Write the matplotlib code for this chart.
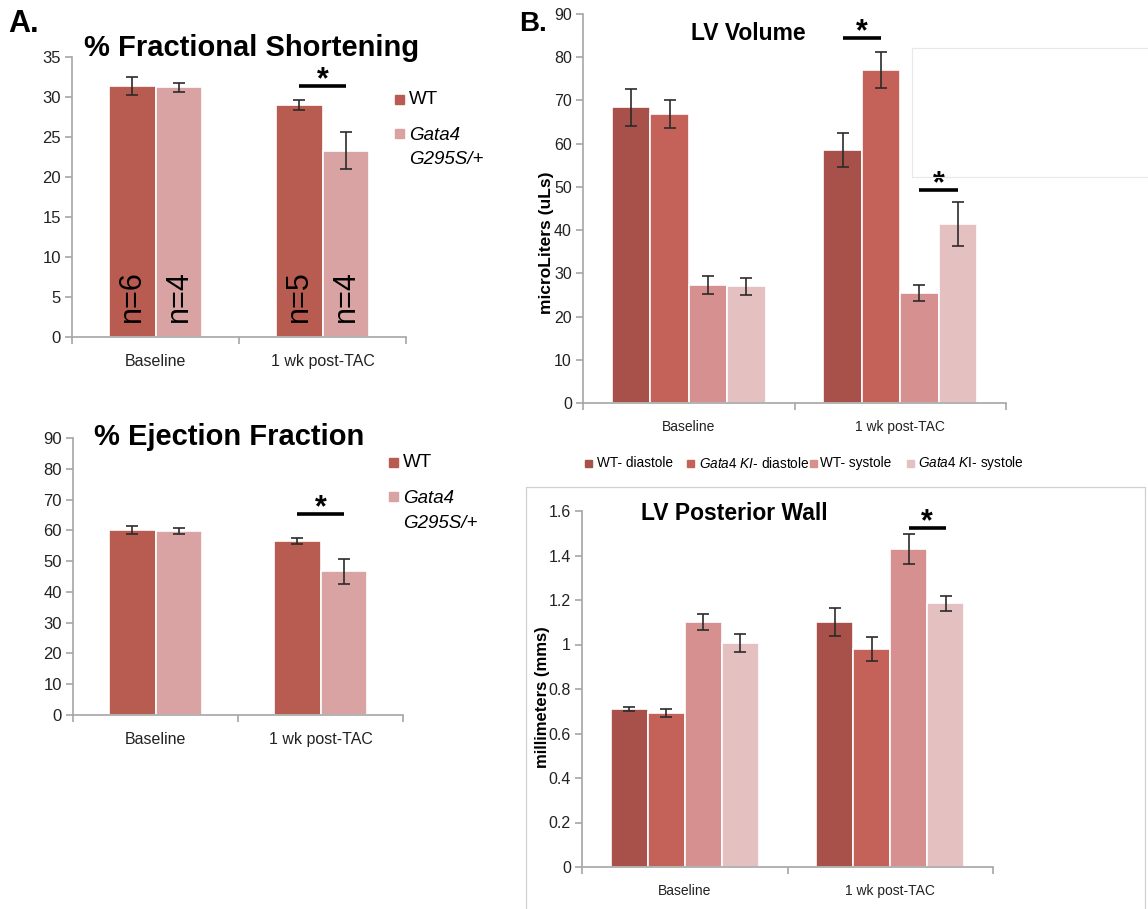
import matplotlib
matplotlib.use("Agg")
import matplotlib.pyplot as plt
from matplotlib.patches import Rectangle
import numpy as np

SANS = 'Liberation Sans'
plt.rcParams['font.family'] = [SANS, 'DejaVu Sans']
plt.rcParams['mathtext.fontset'] = 'custom'
plt.rcParams['mathtext.rm'] = SANS
plt.rcParams['mathtext.it'] = SANS + ':italic'

# Data
groups = ['Baseline', '1 wk post-TAC']

fs_wt = [31.4, 29.0]
fs_wt_err = [1.1, 0.6]
fs_gata = [31.2, 23.3]
fs_gata_err = [0.6, 2.3]
fs_n_wt = ['n=6', 'n=5']
fs_n_gata = ['n=4', 'n=4']

ef_wt = [60.2, 56.4]
ef_wt_err = [1.3, 1.0]
ef_gata = [59.7, 46.7]
ef_gata_err = [0.9, 4.0]

vol_wt_d = [68.4, 58.5]
vol_ki_d = [66.9, 77.0]
vol_wt_s = [27.3, 25.4]
vol_ki_s = [27.0, 41.4]
vol_wt_d_err = [4.2, 4.0]
vol_ki_d_err = [3.3, 4.2]
vol_wt_s_err = [2.0, 1.9]
vol_ki_s_err = [1.9, 5.0]

pw_wt_d = [0.71, 1.10]
pw_ki_d = [0.69, 0.98]
pw_wt_s = [1.10, 1.43]
pw_ki_s = [1.005, 1.185]
pw_wt_d_err = [0.011, 0.063]
pw_ki_d_err = [0.018, 0.052]
pw_wt_s_err = [0.035, 0.066]
pw_ki_s_err = [0.04, 0.034]

b_labels = ['WT- diastole', r'$\mathit{Gata4\ KI}$- diastole', 'WT- systole', r'$\mathit{Gata4\ K}$I- systole']

# colours
c_wt_a = '#b85c51'
c_gata_a = '#d8a3a2'
c_b = ['#a8504a', '#c4625a', '#d69090', '#e4c1c0']
axis_grey = '#a6a6a6'
err_col = '#2b2b2b'

W, H = 1148, 909
fig = plt.figure(figsize=(W / 100, H / 100), dpi=100)
fig.patch.set_facecolor('white')


def px_axes(l, t, r, b):
    return fig.add_axes([l / W, 1 - b / H, (r - l) / W, (b - t) / H])


def fx(x):
    return x / W


def fy(y):
    return 1 - y / H


def style(ax, ymax, ticks, labels, fsize, xfsize):
    ax.set_xlim(-0.5, 1.5)
    ax.set_ylim(0, ymax)
    for s in ['top', 'right']:
        ax.spines[s].set_visible(False)
    for s in ['left', 'bottom']:
        ax.spines[s].set_color(axis_grey)
        ax.spines[s].set_linewidth(1.2)
    ax.set_yticks(ticks)
    ax.set_yticklabels(labels, fontsize=fsize, color='#222222')
    ax.tick_params(axis='y', direction='out', length=5, color=axis_grey, width=1.2, pad=3)
    ax.set_xticks([0, 1])
    ax.set_xticklabels(groups, fontsize=xfsize, color='#222222')
    ax.set_xticks([-0.5, 0.5, 1.5], minor=True)
    ax.tick_params(axis='x', which='major', length=0, pad=12)
    ax.tick_params(axis='x', which='minor', length=5, color=axis_grey, width=1.2)


def sig(ax, x0, x1, y, size=22):
    ax.plot([x0, x1], [y, y], color='black', lw=2.6, solid_capstyle='butt', clip_on=False)
    ax.annotate('*', xy=((x0 + x1) / 2, y), xytext=(0, 4), textcoords='offset points',
                ha='center', va='center', fontsize=size, fontweight='bold', annotation_clip=False)


def bars(ax, xs, vals, errs, w, color):
    ax.bar(xs, vals, w, color=color, edgecolor='white', linewidth=1.2)
    ax.errorbar(xs, vals, yerr=errs, fmt='none', ecolor=err_col, elinewidth=1.2, capsize=4, capthick=1.2)


x = np.arange(len(groups))

# ---------- A: fractional shortening ----------
ax1 = px_axes(72, 57, 406, 337)
wa = 0.281
bars(ax1, x - wa / 2, fs_wt, fs_wt_err, wa, c_wt_a)
bars(ax1, x + wa / 2, fs_gata, fs_gata_err, wa, c_gata_a)
for i in range(len(groups)):
    ax1.text(x[i] - wa / 2, 1.9, fs_n_wt[i], rotation=90, ha='center', va='bottom', fontsize=22)
    ax1.text(x[i] + wa / 2, 1.9, fs_n_gata[i], rotation=90, ha='center', va='bottom', fontsize=22)
style(ax1, 35, range(0, 36, 5), [str(v) for v in range(0, 36, 5)], 12, 11.5)
sig(ax1, 1 - wa / 2, 1 + wa / 2, 31.4)
fig.text(fx(252), fy(48), '% Fractional Shortening', ha='center', va='center', fontsize=21, fontweight='bold')

# ---------- A: ejection fraction ----------
ax2 = px_axes(73, 438, 403, 715)
bars(ax2, x - wa / 2, ef_wt, ef_wt_err, wa, c_wt_a)
bars(ax2, x + wa / 2, ef_gata, ef_gata_err, wa, c_gata_a)
style(ax2, 90, range(0, 91, 10), [str(v) for v in range(0, 91, 10)], 12, 11.5)
sig(ax2, 1 - wa / 2, 1 + wa / 2, 65.3)
fig.text(fx(229), fy(437), '% Ejection Fraction', ha='center', va='center', fontsize=21, fontweight='bold')

# panel A legends
for sx, tx, wy, g1, g2 in [(399, 409, 99, 136, 159), (393, 403, 462, 499, 523)]:
    s = 9
    fig.add_artist(Rectangle((fx(sx - s / 2), fy(wy + s / 2)), s / W, s / H,
                             transform=fig.transFigure, color=c_wt_a))
    fig.add_artist(Rectangle((fx(sx - s / 2), fy(g1 - 3 + s / 2)), s / W, s / H,
                             transform=fig.transFigure, color=c_gata_a))
    fig.text(fx(tx), fy(wy), 'WT', ha='left', va='center', fontsize=13.5)
    fig.text(fx(tx), fy(g1), 'Gata4', ha='left', va='center', fontsize=13.5, style='italic')
    fig.text(fx(tx), fy(g2), 'G295S/+', ha='left', va='center', fontsize=13.5, style='italic')

# ---------- B: LV volume ----------
wb = 0.182
offs = np.array([-1.5, -0.5, 0.5, 1.5]) * wb
ax3 = px_axes(583, 14, 1006, 403)
vol_vals = [vol_wt_d, vol_ki_d, vol_wt_s, vol_ki_s]
vol_errs = [vol_wt_d_err, vol_ki_d_err, vol_wt_s_err, vol_ki_s_err]
for k in range(4):
    bars(ax3, x + offs[k], vol_vals[k], vol_errs[k], wb, c_b[k])
style(ax3, 90, range(0, 91, 10), [str(v) for v in range(0, 91, 10)], 11.5, 10)
sig(ax3, 1 + offs[0], 1 + offs[1], 84.4)
sig(ax3, 1 + offs[2], 1 + offs[3], 49.3)
fig.text(fx(547), fy(243), 'microLiters (uLs)', rotation=90, ha='center', va='center',
         fontsize=12.5, fontweight='bold')
fig.text(fx(748), fy(33), 'LV Volume', ha='center', va='center', fontsize=16.5, fontweight='bold')

# faint box left behind in the source figure
for xs_, ys_ in [([912, 1148], [48, 48]), ([912, 912], [48, 177]), ([912, 1148], [177, 177])]:
    fig.add_artist(plt.Line2D([fx(v) for v in xs_], [fy(v) for v in ys_], color='#e8e8e8', lw=0.8, zorder=3))

# B legend
leg_x = [589, 690, 813, 910]
leg_t = [597, 699, 820, 918]
for k in range(4):
    s = 7
    fig.add_artist(Rectangle((fx(leg_x[k] - s / 2), fy(463 + s / 2)), s / W, s / H,
                             transform=fig.transFigure, color=c_b[k]))
    fig.text(fx(leg_t[k]), fy(463), b_labels[k], ha='left', va='center', fontsize=9.8)

# ---------- B: LV posterior wall ----------
ax4 = px_axes(582, 511, 993, 867)
pw_vals = [pw_wt_d, pw_ki_d, pw_wt_s, pw_ki_s]
pw_errs = [pw_wt_d_err, pw_ki_d_err, pw_wt_s_err, pw_ki_s_err]
wb2 = 0.18
offs2 = np.array([-1.5, -0.5, 0.5, 1.5]) * wb2
for k in range(4):
    bars(ax4, x + offs2[k], pw_vals[k], pw_errs[k], wb2, c_b[k])
pw_ticks = [0, 0.2, 0.4, 0.6, 0.8, 1.0, 1.2, 1.4, 1.6]
pw_labels = ['0', '0.2', '0.4', '0.6', '0.8', '1', '1.2', '1.4', '1.6']
style(ax4, 1.6, pw_ticks, pw_labels, 11.5, 10)
sig(ax4, 1 + offs2[2], 1 + offs2[3], 1.525)
fig.text(fx(543), fy(697), 'millimeters (mms)', rotation=90, ha='center', va='center',
         fontsize=12, fontweight='bold')
fig.text(fx(734), fy(513), 'LV Posterior Wall', ha='center', va='center', fontsize=16.5, fontweight='bold')

# border around the posterior wall panel
fig.add_artist(plt.Line2D([fx(526), fx(526), fx(1145), fx(1145)], [fy(909), fy(487), fy(487), fy(909)],
                          color='#d0d0d0', lw=0.9))

# panel letters
fig.text(fx(8), fy(24), 'A.', ha='left', va='center', fontsize=22, fontweight='bold')
fig.text(fx(519), fy(24), 'B.', ha='left', va='center', fontsize=20, fontweight='bold')

fig.savefig('out.png', dpi=100, facecolor='white')
